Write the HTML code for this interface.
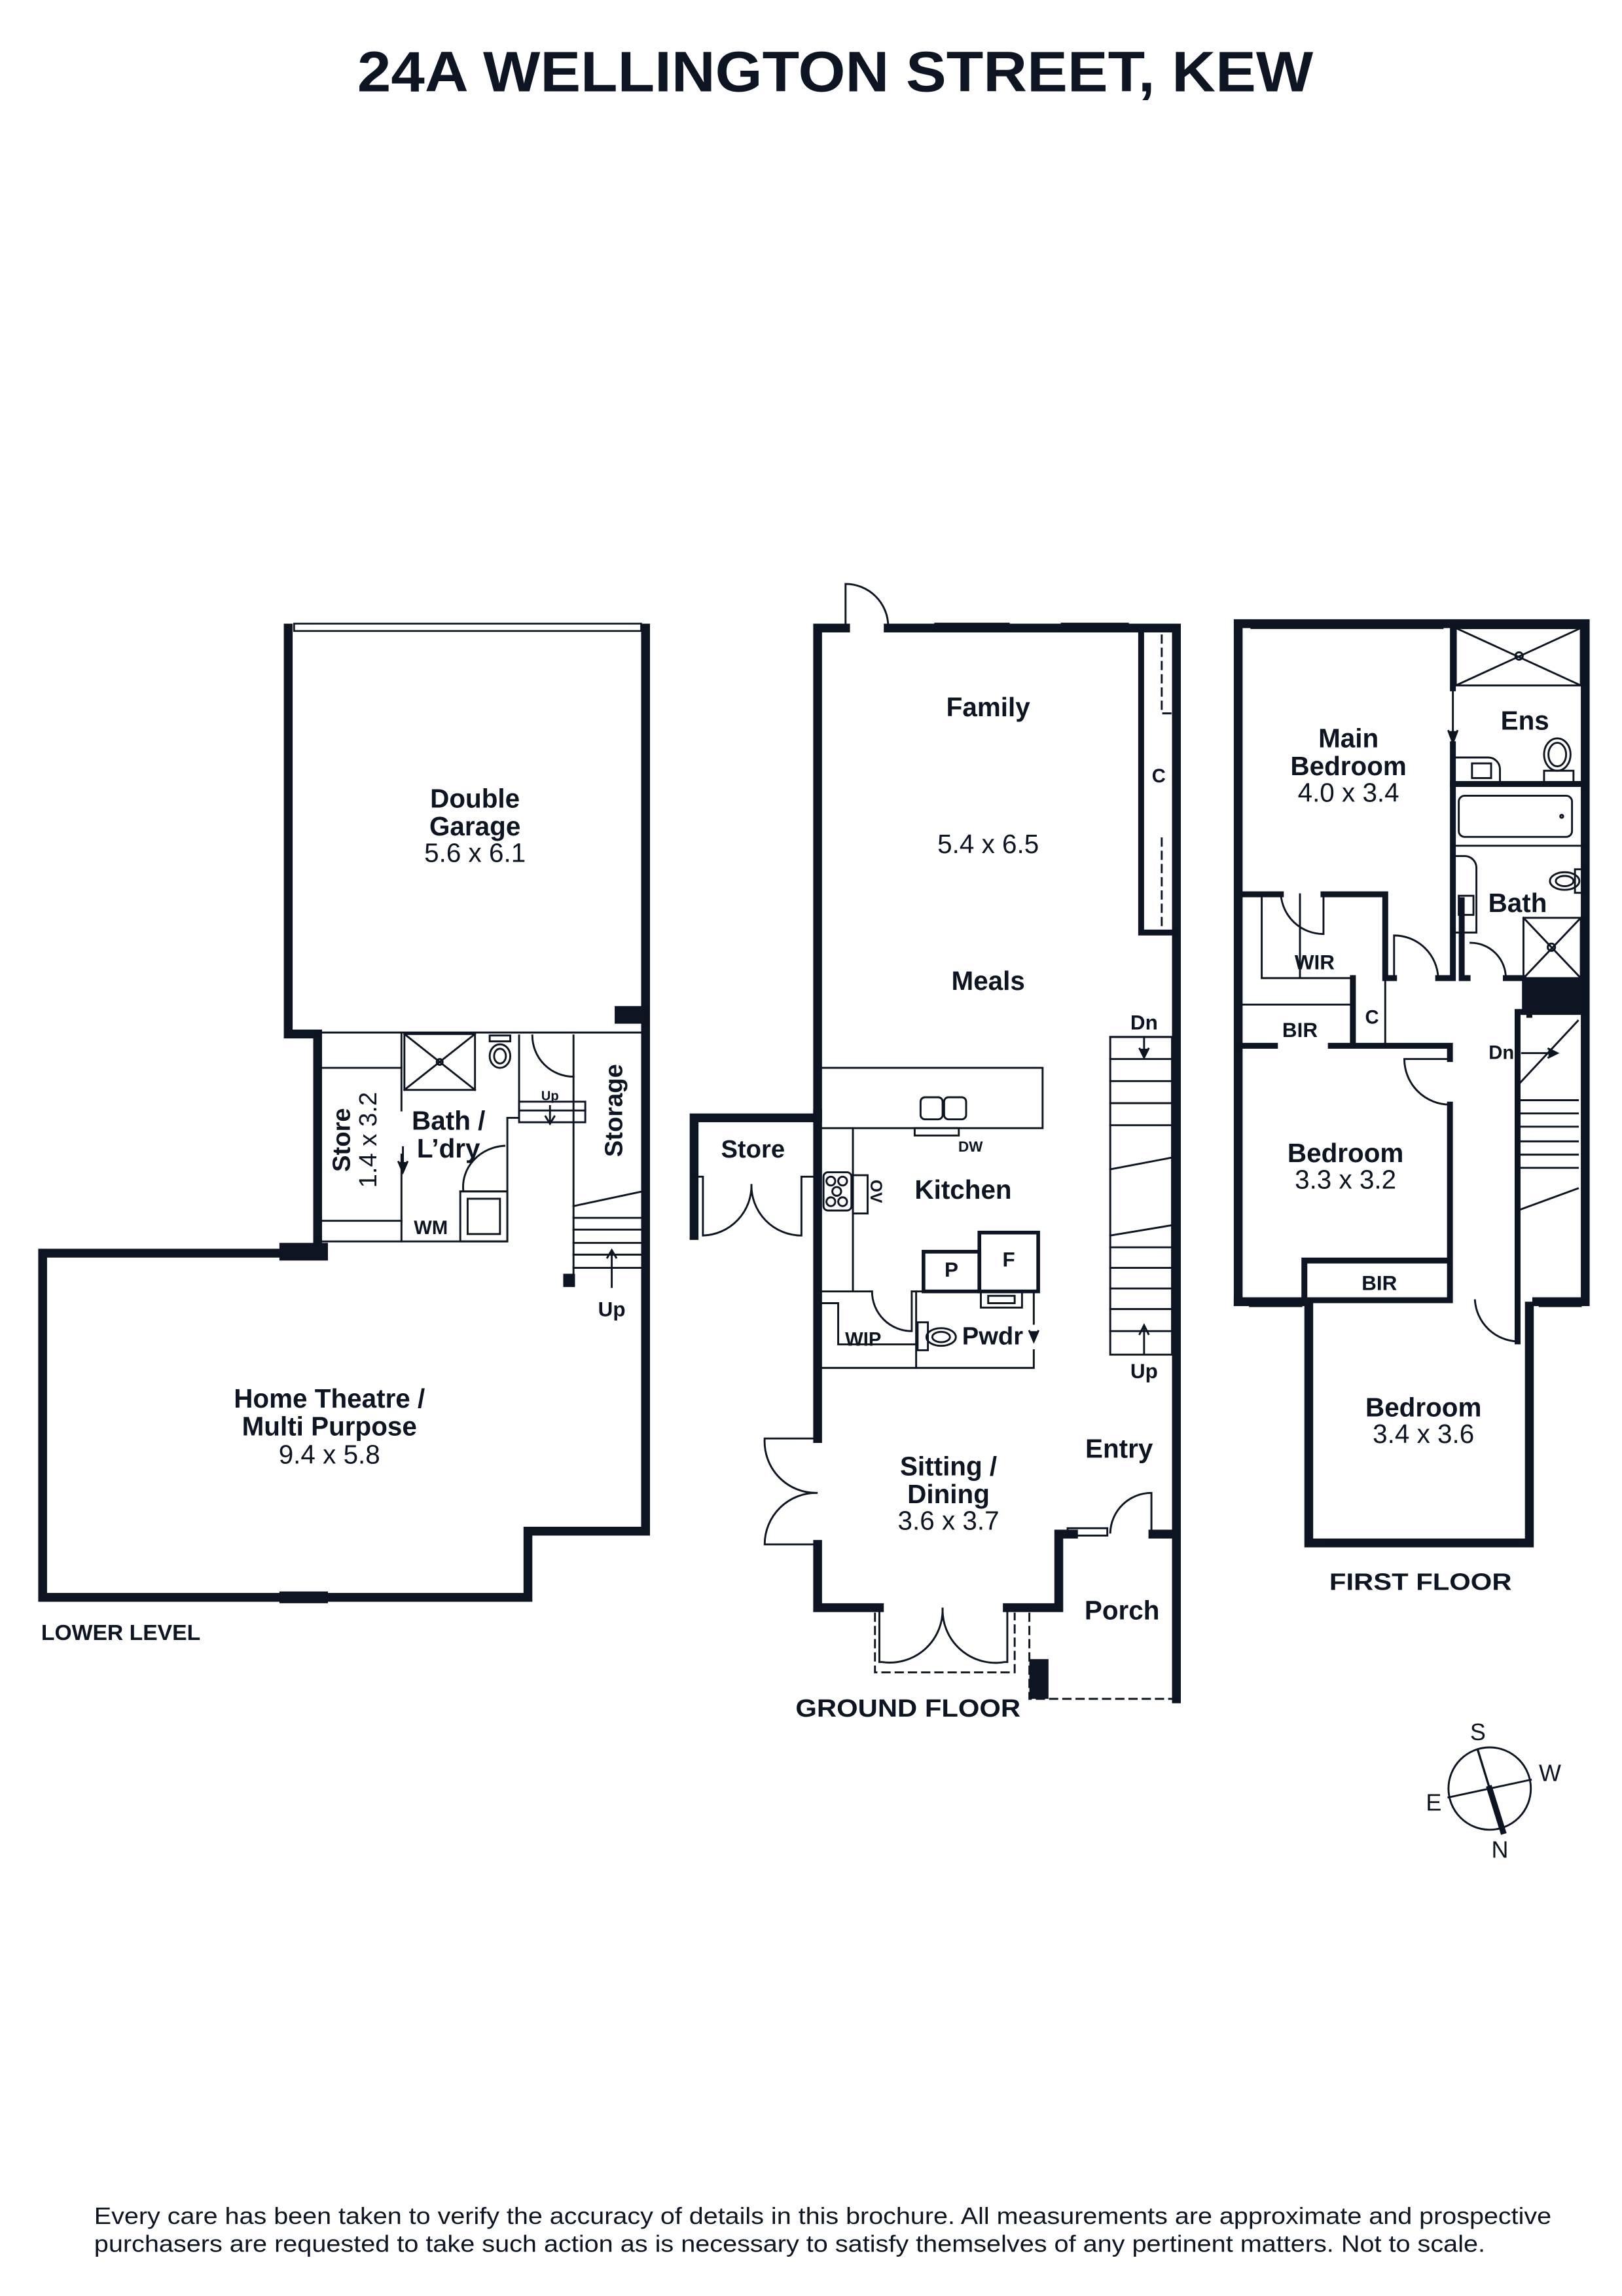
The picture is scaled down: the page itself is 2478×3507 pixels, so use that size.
<!DOCTYPE html>
<html><head><meta charset="utf-8"><style>
html,body{margin:0;padding:0;background:#fff;}
svg{display:block;}
text{font-family:"Liberation Sans",sans-serif;fill:#0d1522;}
.b{font-weight:bold;}
</style></head><body>
<svg width="2478" height="3507" viewBox="0 0 1103 1561" preserveAspectRatio="none" xmlns="http://www.w3.org/2000/svg">
<rect width="1103" height="1561" fill="#fff"/>
<text x="568" y="62" class="b" font-size="39" text-anchor="middle" textLength="650" lengthAdjust="spacingAndGlyphs">24A WELLINGTON STREET, KEW</text>

<g stroke="#0d1522" fill="none" stroke-linecap="square">
<!-- ===== LOWER LEVEL ===== -->
<g stroke-width="6">
<path d="M196 427 V703 H216 V852"/>
<path d="M439 427 V1041 H359 V1086 H29 V852 H216"/>
</g>
<rect x="200" y="424" width="236" height="5" stroke-width="1.2"/>
<rect x="418" y="684" width="22" height="12" fill="#0d1522" stroke="none"/>
<rect x="190" y="845" width="33" height="12" fill="#0d1522" stroke="none"/>
<rect x="190" y="1082" width="33" height="8" fill="#0d1522" stroke="none"/>
<g stroke-width="1.3">
<line x1="216" y1="702" x2="437" y2="702"/>
<line x1="218" y1="726" x2="273" y2="726"/>
<line x1="218" y1="830" x2="273" y2="830"/>
<line x1="273" y1="703" x2="273" y2="755"/>
<line x1="273" y1="785" x2="273" y2="844"/>
<rect x="275" y="703" width="48" height="38"/>
<line x1="275" y1="703" x2="323" y2="741"/><line x1="323" y1="703" x2="275" y2="741"/>
<circle cx="299" cy="722" r="2"/>
<ellipse cx="340" cy="718" rx="7" ry="8"/><ellipse cx="340" cy="718" rx="4" ry="5"/>
<rect x="333" y="704" width="14" height="4"/>
<path d="M216 844 H345 V810 H313 M345 810 V760 H353 V704"/>
<path d="M315 809 A 30 28 0 0 1 343 779"/>
<rect x="313" y="810" width="32" height="34"/><rect x="318" y="815" width="22" height="24"/>
<path d="M362 704 A 28 28 0 0 0 390 732"/>
<line x1="390" y1="704" x2="390" y2="872"/>
<rect x="353" y="749" width="45" height="14"/>
<line x1="353" y1="755" x2="398" y2="755"/>
<line x1="374" y1="752" x2="374" y2="762"/><path d="M371 759 L374 764 L377 759"/>
<line x1="390" y1="820" x2="437" y2="810"/>
<line x1="390" y1="828" x2="437" y2="828"/><line x1="390" y1="836" x2="437" y2="836"/>
<line x1="390" y1="845" x2="437" y2="845"/><line x1="390" y1="853" x2="437" y2="853"/>
<line x1="390" y1="862" x2="437" y2="862"/>
<line x1="416" y1="852" x2="416" y2="875"/><path d="M413 855 L416 850 L419 855"/>
<line x1="274" y1="780" x2="274" y2="795"/><path d="M271 790 L274 797 L277 790" fill="#0d1522"/>
</g>
<rect x="383" y="866" width="8" height="9" fill="#0d1522" stroke="none"/>

<!-- ===== GROUND FLOOR ===== -->
<g stroke-width="6">
<path d="M556 978 V427 H575 M604 427 H800 V1155"/>
<path d="M556 1050 V1093 H598 M685 1093 H720 V1043 H730 M784 1043 H800"/>
<path d="M472 840 V760 H553"/>
<path d="M556 757 V760"/>
</g>
<g stroke-width="1.3">
<path d="M575 427 V397 A 29 29 0 0 1 604 426"/>
<rect x="636" y="424" width="50" height="4"/><rect x="722" y="424" width="45" height="4"/>
<path d="M776 430 V634 H797" stroke-width="4"/>
<path d="M790 432 V485 H797 M790 570 V632" stroke-dasharray="5 4"/>
<rect x="555" y="726" width="154" height="41"/>
<line x1="580" y1="767" x2="580" y2="877"/>
<rect x="626" y="746" width="15" height="15" rx="3"/><rect x="642" y="746" width="15" height="15" rx="3"/>
<rect x="622" y="767" width="30" height="5"/>
<rect x="560" y="797" width="19" height="26" rx="3"/>
<circle cx="565" cy="803" r="3"/><circle cx="573" cy="803" r="3"/><circle cx="569" cy="810" r="3"/><circle cx="565" cy="817" r="3"/><circle cx="573" cy="817" r="3"/>
<rect x="580" y="799" width="10" height="26"/>
<rect x="554" y="838" width="4" height="24"/>
<path d="M556 878 H593 M620 878 H703"/>
<path d="M593 878 A 27 27 0 0 0 620 905 V878"/>
<path d="M556 886 H570 V914 H623"/>
<line x1="623" y1="878" x2="623" y2="930"/>
<path d="M556 930 H703 V918"/><line x1="703" y1="878" x2="703" y2="900"/>
<path d="M700 905 L703 912 L706 905" fill="#0d1522"/>
<rect x="628" y="851" width="38" height="27" stroke-width="2.5"/>
<rect x="666" y="838" width="40" height="40" stroke-width="2.5"/>
<rect x="667" y="878" width="28" height="11"/><rect x="672" y="881" width="18" height="5"/>
<rect x="624" y="899" width="7" height="19"/><ellipse cx="640" cy="909" rx="10" ry="6"/><ellipse cx="640" cy="909" rx="6" ry="3.5"/>
<line x1="755" y1="705" x2="797" y2="705"/>
<rect x="755" y="705" width="42" height="216"/>
<line x1="755" y1="720" x2="797" y2="720"/><line x1="755" y1="735" x2="797" y2="735"/><line x1="755" y1="750" x2="797" y2="750"/>
<line x1="755" y1="765" x2="797" y2="765"/><line x1="755" y1="795" x2="797" y2="787"/><line x1="755" y1="840" x2="797" y2="833"/>
<line x1="755" y1="848" x2="797" y2="848"/><line x1="755" y1="862" x2="797" y2="862"/><line x1="755" y1="876" x2="797" y2="876"/>
<line x1="755" y1="890" x2="797" y2="890"/><line x1="755" y1="905" x2="797" y2="905"/>
<line x1="778" y1="705" x2="778" y2="718"/><path d="M775 713 L778 719 L781 713" fill="#0d1522"/>
<line x1="778" y1="902" x2="778" y2="920"/><path d="M775 907 L778 901 L781 907"/>
<path d="M472 800 H478 V840 A 34 34 0 0 0 511 805 A 34 34 0 0 0 545 840 V800 H553"/>
<path d="M553 978 H520 A 35 35 0 0 0 556 1015 A 35 35 0 0 0 520 1050 H553"/>
<path d="M598 1093 V1130 H600 A 36 36 0 0 0 641 1093 A 36 36 0 0 0 683 1130 H685 V1093"/>
<path d="M595 1097 V1137 H690 V1097" stroke-dasharray="5 4"/>
<path d="M700 1097 V1155 H800" stroke-dasharray="5 4"/>
<rect x="726" y="1039" width="27" height="5"/>
<path d="M755 1042 A 28 28 0 0 1 783 1015 V1043"/>
</g>
<rect x="700" y="1128" width="13" height="27" fill="#0d1522" stroke="none"/>

<!-- ===== FIRST FLOOR ===== -->
<g stroke-width="6">
<path d="M842 885 V424 H1078 V885 H1045"/>
<path d="M842 885 H886"/>
<path d="M890 886 V1049 H1040 V888"/>
</g>
<g stroke-width="1.3">
<rect x="851" y="423" width="130" height="4"/><rect x="995" y="423" width="80" height="4"/>
<rect x="850" y="884" width="35" height="4"/><rect x="905" y="1047" width="124" height="4"/><rect x="1047" y="884" width="28" height="4"/>
</g>
<g stroke-width="4">
<path d="M988 427 V468 M988 506 V665 H978 M948 665 H942 V608 H900 M871 608 H845"/>
<path d="M994 665 V612 M994 665 H998 M1024 665 H1036"/>
<line x1="988" y1="533" x2="1075" y2="533"/>
<path d="M920 665 V711 M845 711 H867 M905 711 H986 V720 M986 751 V884 H887 V857 H986"/>
<path d="M1032 688 V884 M1032 688 H1040 V690"/>
<path d="M1032 888 V912"/>
</g>
<rect x="1035" y="665" width="42" height="25" fill="#0d1522" stroke="none"/>
<g stroke-width="1.3">
<rect x="990" y="427" width="85" height="39"/>
<line x1="990" y1="427" x2="1075" y2="466"/><line x1="1075" y1="427" x2="990" y2="466"/><circle cx="1033" cy="446" r="2.5"/>
<path d="M988 470 V502"/><path d="M985 497 L988 505 L991 497" fill="#0d1522"/>
<path d="M990 515 H1012 A 8 8 0 0 1 1020 523 V533"/><rect x="1001" y="519" width="13" height="10"/>
<ellipse cx="1059" cy="513" rx="9" ry="11"/><ellipse cx="1059" cy="513" rx="6" ry="8"/><rect x="1050" y="524" width="20" height="8"/>
<rect x="992" y="541" width="77" height="28" rx="4"/><circle cx="1062" cy="555" r="1"/>
<line x1="990" y1="575" x2="1075" y2="575"/>
<path d="M990 582 H996 A 8 8 0 0 1 1004 590 V634 H990"/><rect x="992" y="609" width="10" height="13"/>
<ellipse cx="1064" cy="599" rx="10" ry="6"/><ellipse cx="1064" cy="599" rx="6" ry="3.5"/><rect x="1071" y="591" width="6" height="16"/>
<rect x="1036" y="624" width="39" height="41"/>
<line x1="1036" y1="624" x2="1075" y2="665"/><line x1="1075" y1="624" x2="1036" y2="665"/><circle cx="1055" cy="644" r="2.5"/>
<path d="M1000 641 A 24 24 0 0 1 1024 665"/>
<path d="M948 665 V636 A 30 30 0 0 1 978 665"/>
<path d="M871 608 A 29 29 0 0 0 900 635 V608"/>
<path d="M858 608 V665 H920 M884 608 V665"/>
<line x1="845" y1="683" x2="920" y2="683"/>
<line x1="942" y1="665" x2="942" y2="711"/>
<path d="M955 720 H986 M955 720 A 31 31 0 0 0 986 751"/>
<path d="M1003 884 A 30 30 0 0 0 1032 912"/>
<line x1="1032" y1="738" x2="1073" y2="694"/>
<line x1="1032" y1="748" x2="1073" y2="748"/><line x1="1032" y1="757" x2="1073" y2="757"/><line x1="1032" y1="766" x2="1073" y2="766"/>
<line x1="1032" y1="776" x2="1073" y2="776"/><line x1="1032" y1="785" x2="1073" y2="785"/><line x1="1032" y1="794" x2="1073" y2="794"/>
<line x1="1032" y1="823" x2="1073" y2="808"/>
<line x1="1035" y1="716" x2="1058" y2="716"/><path d="M1053 713 L1059 716 L1053 719" fill="#0d1522"/>
</g>

<!-- compass -->
<circle cx="1013" cy="1216" r="28" stroke-width="1.3"/>
<line x1="985" y1="1222" x2="1041" y2="1210" stroke-width="1.3"/>
<line x1="1005" y1="1190" x2="1013" y2="1216" stroke-width="1.5"/>
<line x1="1013" y1="1216" x2="1022" y2="1245" stroke-width="4"/>
</g>

<!-- labels -->
<g class="b" font-weight="bold" text-anchor="middle">
<text x="323" y="549" font-size="18">Double</text>
<text x="323" y="568" font-size="18">Garage</text>
<text x="224" y="957" font-size="18">Home Theatre /</text>
<text x="224" y="976" font-size="18">Multi Purpose</text>
<text x="305" y="768" font-size="18">Bath /</text>
<text x="305" y="787" font-size="18">L’dry</text>
<text x="293" y="839" font-size="13">WM</text>
<text x="374" y="748" font-size="9">Up</text>
<text x="416" y="895" font-size="14">Up</text>
<text x="238" y="775" font-size="17" transform="rotate(-90 238 775)">Store</text>
<text x="423" y="755" font-size="17" transform="rotate(-90 423 755)">Storage</text>
<text x="672" y="487" font-size="18">Family</text>
<text x="672" y="673" font-size="18">Meals</text>
<text x="655" y="815" font-size="18">Kitchen</text>
<text x="512" y="787" font-size="17">Store</text>
<text x="645" y="1003" font-size="18">Sitting /</text>
<text x="645" y="1022" font-size="18">Dining</text>
<text x="761" y="991" font-size="18">Entry</text>
<text x="763" y="1101" font-size="18">Porch</text>
<text x="647" y="868" font-size="14">P</text>
<text x="686" y="861" font-size="14">F</text>
<text x="675" y="914" font-size="17">Pwdr</text>
<text x="587" y="915" font-size="13">WIP</text>
<text x="660" y="783" font-size="10">DW</text>
<text x="788" y="532" font-size="13">C</text>
<text x="592" y="810" font-size="11" transform="rotate(90 592 810)">OV</text>
<text x="778" y="700" font-size="14">Dn</text>
<text x="778" y="937" font-size="14">Up</text>
<text x="917" y="508" font-size="18">Main</text>
<text x="917" y="527" font-size="18">Bedroom</text>
<text x="1037" y="496" font-size="18">Ens</text>
<text x="1032" y="620" font-size="18">Bath</text>
<text x="894" y="659" font-size="14">WIR</text>
<text x="884" y="705" font-size="14">BIR</text>
<text x="933" y="696" font-size="13">C</text>
<text x="1021" y="720" font-size="13">Dn</text>
<text x="915" y="790" font-size="18">Bedroom</text>
<text x="938" y="877" font-size="14">BIR</text>
<text x="968" y="963" font-size="18">Bedroom</text>
</g>
<g text-anchor="middle" font-size="18">
<text x="323" y="586">5.6 x 6.1</text>
<text x="224" y="995">9.4 x 5.8</text>
<text x="256" y="775" transform="rotate(-90 256 775)" font-size="17">1.4 x 3.2</text>
<text x="672" y="580">5.4 x 6.5</text>
<text x="645" y="1040">3.6 x 3.7</text>
<text x="917" y="545">4.0 x 3.4</text>
<text x="915" y="808">3.3 x 3.2</text>
<text x="968" y="981">3.4 x 3.6</text>
<text x="1005" y="1183" font-size="16">S</text>
<text x="1054" y="1211" font-size="16">W</text>
<text x="975" y="1231" font-size="16">E</text>
<text x="1020" y="1263" font-size="16">N</text>
</g>
<g class="b" font-weight="bold">
<text x="28" y="1115" font-size="15">LOWER LEVEL</text>
<text x="541" y="1167" font-size="17" textLength="153" lengthAdjust="spacingAndGlyphs">GROUND FLOOR</text>
<text x="904" y="1081" font-size="16" textLength="124" lengthAdjust="spacingAndGlyphs">FIRST FLOOR</text>
</g>
<text x="64" y="1512" font-size="16" textLength="991" lengthAdjust="spacingAndGlyphs">Every care has been taken to verify the accuracy of details in this brochure. All measurements are approximate and prospective</text>
<text x="64" y="1531" font-size="16" textLength="946" lengthAdjust="spacingAndGlyphs">purchasers are requested to take such action as is necessary to satisfy themselves of any pertinent matters. Not to scale.</text>
</svg>
</body></html>
